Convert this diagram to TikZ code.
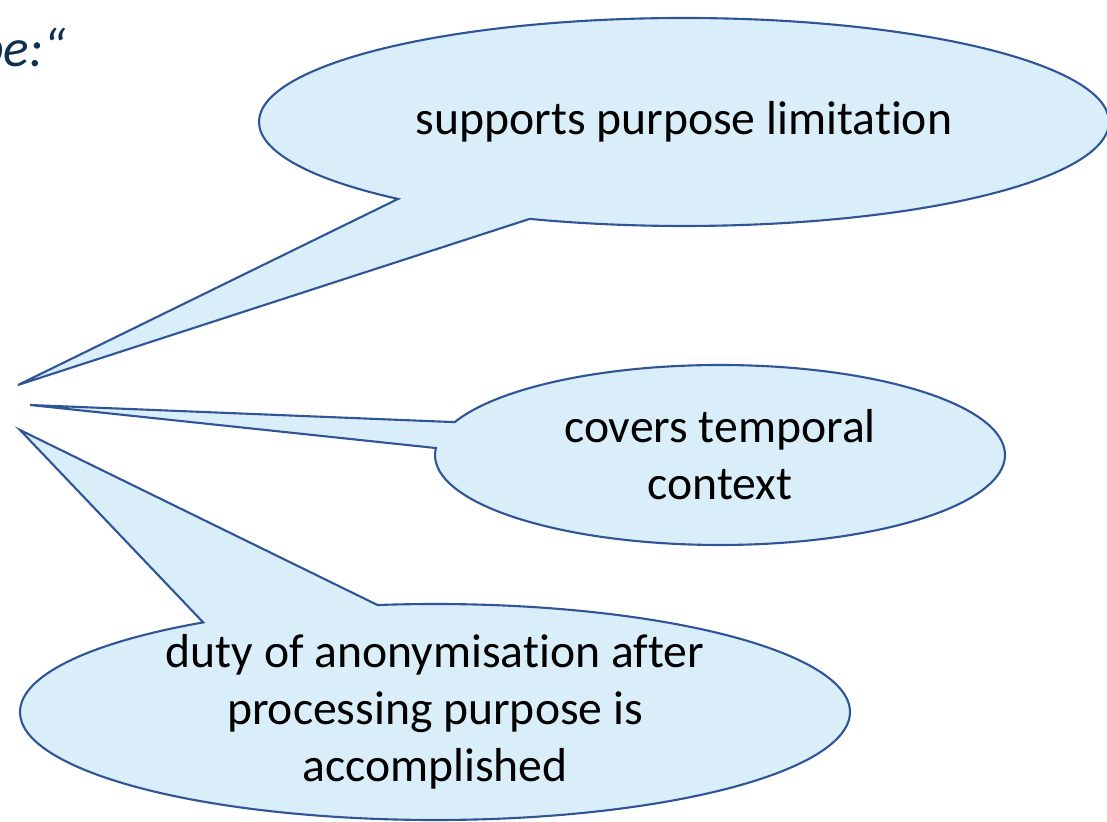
\documentclass[tikz,border=0pt]{standalone}
\usepackage{fontspec}
\setmainfont{Carlito}[Ligatures=NoCommon]
\usetikzlibrary{shapes.callouts}
\definecolor{bubblefill}{RGB}{218,238,250}
\definecolor{bubbleline}{RGB}{47,85,151}
\definecolor{titleblue}{RGB}{16,48,82}

\begin{document}
\begin{tikzpicture}[
  bubble/.style={ellipse callout, draw=bubbleline, fill=bubblefill, line width=1.5pt,
    inner sep=0pt, align=center, font=\fontsize{33.9}{40.5}\selectfont}
]
\useasboundingbox (0,0) rectangle (27.675,20.55);

\node[font={\fontsize{38}{46}\selectfont\itshape}, text=titleblue, anchor=base east, inner sep=0pt] (title) at (1.65,18.875) {pe:“};

\coordinate (tipTop) at (0.45,10.925);
\coordinate (tipMid) at (0.75,10.425);
\coordinate (tipLow) at (0.5,9.8);

\node[bubble, minimum width=21.25cm, minimum height=5.2cm, callout pointer arc=21, callout absolute pointer={(tipTop)}] (purpose) at (17.1,17.5) {supports purpose limitation};

\node[bubble, minimum width=14.25cm, minimum height=4.5cm, callout pointer arc=17, callout absolute pointer={(tipMid)}] (temporal) at (18,9.175) {covers temporal\\context};

\node[bubble, minimum width=20.75cm, minimum height=5.4cm, inner ysep=-4mm, callout pointer arc=26, callout absolute pointer={(tipLow)}] (anonym) at (10.875,2.75) {duty of anonymisation after\\processing purpose is\\accomplished};

\end{tikzpicture}
\end{document}
